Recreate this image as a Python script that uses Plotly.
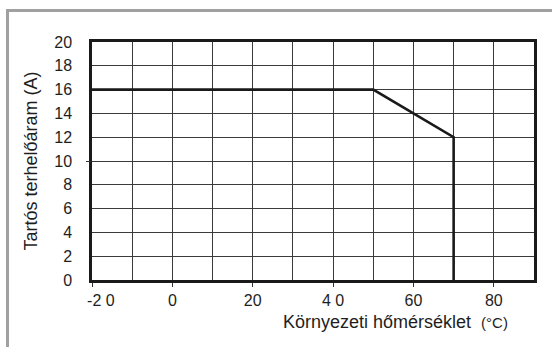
import plotly.graph_objects as go

# Derating curve: continuous load current vs. ambient temperature
temp_c = [-20, 50, 70, 70]
current_a = [16, 16, 12, 0]

x_tick_vals = [-20, 0, 20, 40, 60, 80]
x_tick_text = ["\u00a0\u00a0\u00a0\u00a0-2 0", "0", "20", "4 0", "60", "80"]
y_tick_vals = list(range(0, 21, 2))

FONT = "Arial, Liberation Sans, sans-serif"
INK = "#1e1e1e"

fig = go.Figure()
fig.add_trace(go.Scatter(
    x=temp_c, y=current_a, mode="lines",
    line=dict(color="#1a1a1a", width=2.6),
    hoverinfo="skip", showlegend=False, cliponaxis=False,
))

fig.update_xaxes(
    range=[-20, 90], tickvals=x_tick_vals, ticktext=x_tick_text,
    ticks="outside", ticklen=4, tickwidth=1, tickcolor="#333",
    showgrid=True, gridcolor="#3a3a3a", gridwidth=1,
    minor=dict(dtick=10, tick0=0, showgrid=True, gridcolor="#3a3a3a", gridwidth=1, ticks=""),
    showline=True, linecolor="#1a1a1a", linewidth=2.5, mirror=True,
    zeroline=False, tickfont=dict(family=FONT, size=16, color=INK),
    fixedrange=True,
)
fig.update_yaxes(
    range=[0, 20], tickvals=y_tick_vals,
    ticks="", ticklabelstandoff=14,
    showgrid=True, gridcolor="#3a3a3a", gridwidth=1,
    showline=True, linecolor="#1a1a1a", linewidth=2.5, mirror=True,
    zeroline=False, tickfont=dict(family=FONT, size=16, color=INK),
    title=dict(text="Tartós terhelőáram (A)", standoff=12,
               font=dict(family=FONT, size=18, color=INK)),
    fixedrange=True,
)

# Single outside tick mark at 10 A on an overlaid axis
fig.update_layout(yaxis2=dict(
    overlaying="y", matches="y", side="left", tickvals=[10],
    ticks="outside", ticklen=5, tickwidth=1, tickcolor="#333",
    showticklabels=False, showgrid=False, showline=False, zeroline=False,
    fixedrange=True,
))
fig.add_trace(go.Scatter(x=[None], y=[None], yaxis="y2", showlegend=False, hoverinfo="skip"))

# Outer panel frame
fig.add_shape(type="rect", xref="paper", yref="paper",
              x0=-0.1912, x1=1.08, y0=-0.40, y1=1.1324,
              line=dict(color="#a0a0a0", width=3), layer="below")

fig.add_annotation(
    xref="paper", yref="paper", x=0.946, y=-0.176,
    xanchor="right", yanchor="middle", showarrow=False,
    text="Környezeti hőmérséklet\u00a0\u00a0<span style='font-size:15px'>(°C)</span>",
    font=dict(family=FONT, size=18, color=INK),
)

fig.update_layout(
    width=552, height=347,
    margin=dict(l=92, r=18, t=42, b=67),
    paper_bgcolor="white", plot_bgcolor="white",
    font=dict(family=FONT, color=INK),
)

fig.write_html("out.html", config={"displayModeBar": False})
